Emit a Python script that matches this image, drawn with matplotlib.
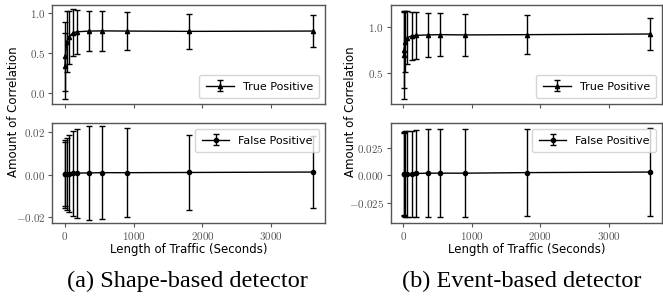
import matplotlib
matplotlib.use("Agg")
import matplotlib.pyplot as plt
from matplotlib.ticker import FuncFormatter, FixedLocator

plt.rcParams['mathtext.fontset'] = 'cm'

# Data
lengths = [5, 10, 30, 60, 120, 180, 360, 540, 900, 1800, 3600]

shape_tp_mean = [0.34, 0.458, 0.64, 0.70, 0.754, 0.766, 0.775, 0.777, 0.775, 0.771, 0.775]
shape_tp_err = [0.41, 0.425, 0.38, 0.33, 0.29, 0.275, 0.255, 0.245, 0.233, 0.217, 0.195]
shape_fp_mean = [0.0003, 0.0004, 0.0005, 0.0006, 0.0007, 0.0008, 0.0009, 0.0010, 0.0010, 0.0011, 0.0013]
shape_fp_err = [0.015, 0.016, 0.017, 0.018, 0.020, 0.021, 0.022, 0.022, 0.021, 0.0175, 0.0172]

event_tp_mean = [0.69, 0.746, 0.837, 0.88, 0.90, 0.905, 0.91, 0.913, 0.91, 0.913, 0.92]
event_tp_err = [0.48, 0.41, 0.33, 0.29, 0.26, 0.255, 0.24, 0.233, 0.23, 0.213, 0.176]
event_fp_mean = [0.001, 0.001, 0.0015, 0.0015, 0.0015, 0.0017, 0.002, 0.002, 0.002, 0.0025, 0.003]
event_fp_err = [0.037, 0.038, 0.039, 0.039, 0.039, 0.039, 0.0395, 0.040, 0.040, 0.039, 0.040]

xticks = [0, 1000, 2000, 3000]
captions = ["(a) Shape-based detector", "(b) Event-based detector"]

fig = plt.figure(figsize=(6.63, 2.97), dpi=100)

W, H = 663.0, 297.0
panels = [
    dict(x0=52.3, x1=325.0, tp=(shape_tp_mean, shape_tp_err), fp=(shape_fp_mean, shape_fp_err),
         tpylim=(-0.135, 1.10), tpticks=[0.0, 0.5, 1.0], tpfmt="%.1f",
         fpylim=(-0.0226, 0.0243), fpticks=[-0.02, 0.0, 0.02], fpfmt="%.2f",
         ylab_x=14, cap=captions[0], cap_x=187),
    dict(x0=391.0, x1=662.0, tp=(event_tp_mean, event_tp_err), fp=(event_fp_mean, event_fp_err),
         tpylim=(0.16, 1.235), tpticks=[0.5, 1.0], tpfmt="%.1f",
         fpylim=(-0.0427, 0.047), fpticks=[-0.025, 0.0, 0.025], fpfmt="%.3f",
         ylab_x=351, cap=captions[1], cap_x=522),
]

def mfmt(fmt):
    def f(v, pos):
        return "$" + (fmt % v) + "$"
    return FuncFormatter(f)

frame_col = '#555555'
for p in panels:
    l = p['x0'] / W
    w = (p['x1'] - p['x0']) / W
    ax1 = fig.add_axes([l, 1 - 104 / H, w, 99 / H])
    ax2 = fig.add_axes([l, 1 - 222.7 / H, w, 99.4 / H], sharex=ax1)

    ax1.errorbar(lengths, p['tp'][0], yerr=p['tp'][1], color='black', marker='^',
                 markersize=3, linewidth=1.0, elinewidth=1.0, capsize=2.2, capthick=1.0,
                 label='True Positive')
    ax2.errorbar(lengths, p['fp'][0], yerr=p['fp'][1], color='black', marker='o',
                 markersize=3, linewidth=1.0, elinewidth=1.0, capsize=2.2, capthick=1.0,
                 label='False Positive')

    ax1.set_ylim(*p['tpylim'])
    ax2.set_ylim(*p['fpylim'])
    ax1.yaxis.set_major_locator(FixedLocator(p['tpticks']))
    ax2.yaxis.set_major_locator(FixedLocator(p['fpticks']))
    ax1.yaxis.set_major_formatter(mfmt(p['tpfmt']))
    ax2.yaxis.set_major_formatter(mfmt(p['fpfmt']))
    ax2.set_xlim(-180, 3780)
    ax2.xaxis.set_major_locator(FixedLocator(xticks))
    ax2.xaxis.set_major_formatter(FuncFormatter(lambda v, pos: "$%d$" % v))
    ax1.tick_params(labelbottom=False)

    for ax in (ax1, ax2):
        for s in ax.spines.values():
            s.set_color(frame_col)
            s.set_linewidth(1.0)
        ax.tick_params(axis='both', labelsize=8, length=3, width=0.8, color=frame_col,
                       labelcolor='#555555', pad=2)

    leg1 = ax1.legend(loc='lower right', fontsize=8, handlelength=2.5, borderpad=0.6)
    leg2 = ax2.legend(loc='upper right', fontsize=8, handlelength=2.5, borderpad=0.6)
    for lg in (leg1, leg2):
        lg.get_frame().set_edgecolor('#cccccc')

    ax2.set_xlabel("Length of Traffic (Seconds)", fontsize=8.5, labelpad=1)
    fig.text(p['ylab_x'] / W, 1 - 112 / H, "Amount of Correlation", rotation=90,
             ha='center', va='center', fontsize=8.5)
    fig.text(p['cap_x'] / W, 1 - 281 / H, p['cap'], ha='center', va='center', fontsize=17.5,
             family='Liberation Serif')

fig.savefig("out.png", dpi=100)
